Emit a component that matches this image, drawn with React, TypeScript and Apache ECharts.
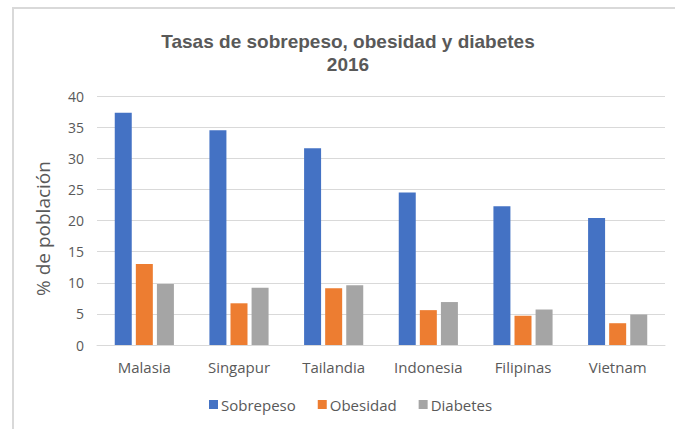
import React, { useEffect, useRef } from "react";
import * as echarts from "echarts";

const categories = ["Malasia", "Singapur", "Tailandia", "Indonesia", "Filipinas", "Vietnam"];
const sobrepeso = [37.3, 34.5, 31.6, 24.5, 22.3, 20.4];
const obesidad = [13.0, 6.7, 9.1, 5.6, 4.7, 3.5];
const diabetes = [9.8, 9.2, 9.6, 6.9, 5.7, 4.9];
const yTicks = [0, 40, 5];

const FONT = "'Open Sans', 'Noto Sans', 'Liberation Sans', sans-serif";
const TXT = "#595959";

export default function App() {
  const ref = useRef<HTMLDivElement>(null);
  useEffect(() => {
    if (!ref.current) return;
    const chart = echarts.init(ref.current, undefined, { renderer: "svg" });
    const mk = (name: string, data: number[], color: string) => ({
      name,
      type: "bar",
      data,
      barWidth: 17,
      barGap: "24%",
      itemStyle: { color },
    });
    chart.setOption({
      animation: false,
      backgroundColor: "#ffffff",
      textStyle: { fontFamily: FONT },
      title: {
        text: "Tasas de sobrepeso, obesidad y diabetes\n2016",
        left: 343,
        textAlign: "center",
        top: 25,
        textStyle: {
          fontFamily: "'Liberation Sans', Arial, sans-serif",
          fontWeight: "bold",
          fontSize: 19,
          lineHeight: 23,
          color: TXT,
        },
      },
      graphic: [
        {
          type: "rect",
          shape: { x: 13, y: 8, width: 720, height: 500 },
          style: { fill: "none", stroke: "#d9d9d9", lineWidth: 2 },
          silent: true,
        },
      ],
      legend: {
        bottom: 12,
        left: 204,
        itemWidth: 9,
        itemHeight: 9,
        itemGap: 22,
        icon: "rect",
        textStyle: { fontFamily: FONT, fontSize: 15, color: TXT, padding: [0, 0, 0, -2] },
        data: ["Sobrepeso", "Obesidad", "Diabetes"],
      },
      grid: { left: 97, right: 10, top: 96, bottom: 84 },
      xAxis: {
        type: "category",
        data: categories,
        axisTick: { show: false },
        axisLine: { lineStyle: { color: "#d9d9d9", width: 1 } },
        axisLabel: { color: TXT, fontSize: 15, margin: 14, fontFamily: FONT },
      },
      yAxis: {
        type: "value",
        min: yTicks[0],
        max: yTicks[1],
        interval: yTicks[2],
        name: "% de población",
        nameLocation: "middle",
        nameGap: 45,
        nameTextStyle: { color: TXT, fontSize: 19, fontFamily: FONT, padding: [0, 16, 0, 0] },
        axisLine: { show: false },
        axisTick: { show: false },
        axisLabel: { color: TXT, fontSize: 14, margin: 13, fontFamily: FONT },
        splitLine: { lineStyle: { color: "#d9d9d9", width: 1 } },
      },
      series: [
        mk("Sobrepeso", sobrepeso, "#4472c4"),
        mk("Obesidad", obesidad, "#ed7d31"),
        mk("Diabetes", diabetes, "#a5a5a5"),
      ],
    });
    return () => chart.dispose();
  }, []);
  return (
    <div
      ref={ref}
      style={{ position: "absolute", left: 0, top: 0, width: 675, height: 429 }}
    />
  );
}
